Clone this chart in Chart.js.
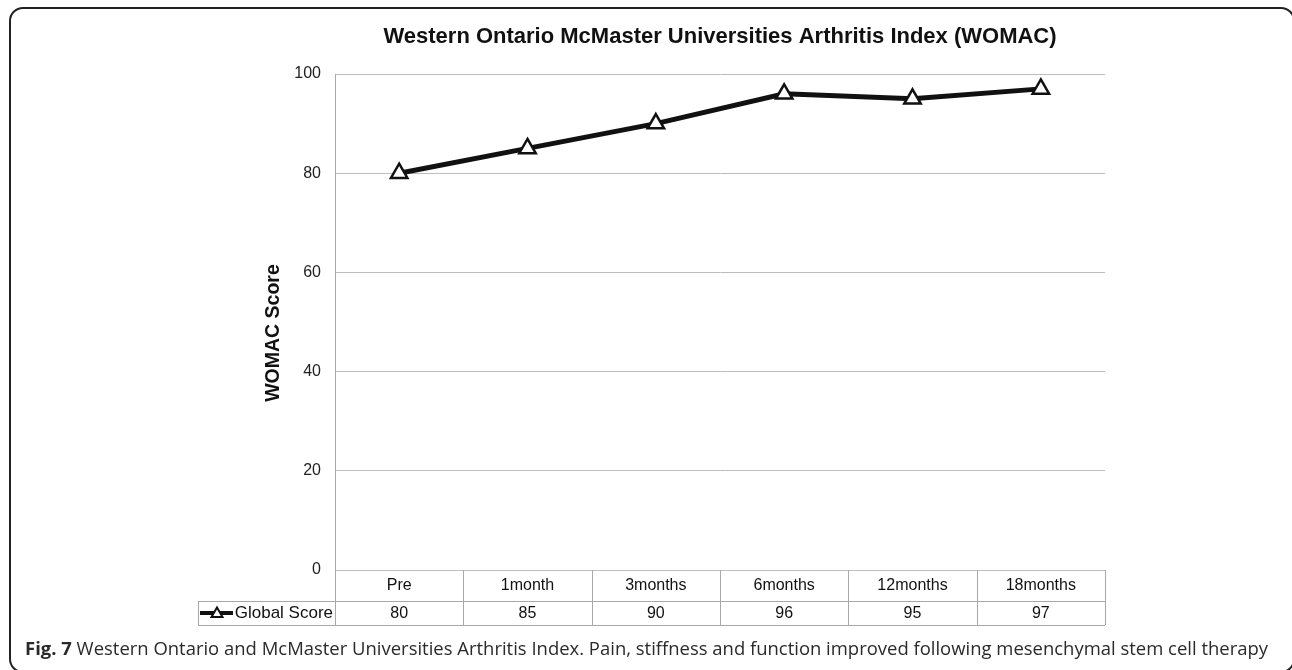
<!DOCTYPE html>
<html>
<head>
<meta charset="utf-8">
<script src="https://cdn.jsdelivr.net/npm/chart.js@4.4.1/dist/chart.umd.min.js"></script>
<style>
  html, body { margin: 0; padding: 0; background: #fff; }
  canvas { display: block; }
</style>
</head>
<body>
<canvas id="womac" width="1292" height="670"></canvas>
<script>
// time points and WOMAC global score
const timePoints = ['Pre', '1month', '3months', '6months', '12months', '18months']
const globalScore = [80, 85, 90, 96, 95, 97]
const yTicks = [0, 20, 40, 60, 80, 100]

const seriesName = 'Global Score'
const yTitle = 'WOMAC Score'
const captionBold = 'Fig. 7'
const captionText = ' Western Ontario and McMaster Universities Arthritis Index. Pain, stiffness and function improved following mesenchymal stem cell therapy'

const sans = '"Liberation Sans", Arial, sans-serif'
const tableGrey = '#a8a8a8'

// data table under the plot, y title, frame and caption
const extrasPlugin = {
    id: 'extras',
    afterDraw(chart) {
        const ctx = chart.ctx
        const area = chart.chartArea
        const x = chart.scales.x
        const step = x.getPixelForValue(1) - x.getPixelForValue(0)
        const rowMid = area.bottom + 31
        const rowBot = area.bottom + 55
        const legendLeft = 198

        ctx.save()
        ctx.strokeStyle = tableGrey
        ctx.lineWidth = 1
        ctx.beginPath()
        // horizontal rules
        ctx.moveTo(legendLeft, rowMid + 0.5); ctx.lineTo(area.right, rowMid + 0.5)
        ctx.moveTo(legendLeft, rowBot + 0.5); ctx.lineTo(area.right, rowBot + 0.5)
        // left edge of plot runs down through the table
        ctx.moveTo(Math.round(area.left) + 0.5, area.bottom); ctx.lineTo(Math.round(area.left) + 0.5, rowBot)
        ctx.moveTo(legendLeft + 0.5, rowMid); ctx.lineTo(legendLeft + 0.5, rowBot)
        // column separators
        timePoints.forEach((t, i) => {
            const sx = Math.round(x.getPixelForValue(i) + step / 2) + 0.5
            ctx.moveTo(sx, area.bottom); ctx.lineTo(sx, rowBot)
        })
        ctx.stroke()

        // category + value cells
        ctx.fillStyle = '#111'
        ctx.font = '16px ' + sans
        ctx.textAlign = 'center'
        ctx.textBaseline = 'middle'
        timePoints.forEach((t, i) => {
            const cx = x.getPixelForValue(i)
            ctx.fillText(t, cx, area.bottom + 16)
            ctx.fillText(String(globalScore[i]), cx, rowMid + 12.5)
        })

        // legend key in the row header
        ctx.textAlign = 'right'
        ctx.font = '17px ' + sans
        ctx.fillText(seriesName, area.left - 2, rowMid + 12.5)
        const ky = rowMid + 12
        ctx.strokeStyle = '#111'
        ctx.lineWidth = 4
        ctx.beginPath()
        ctx.moveTo(200, ky); ctx.lineTo(233, ky)
        ctx.stroke()
        ctx.fillStyle = '#fff'
        ctx.lineWidth = 2
        ctx.beginPath()
        ctx.moveTo(217, ky - 5.5); ctx.lineTo(222.5, ky + 4); ctx.lineTo(211.5, ky + 4); ctx.closePath()
        ctx.fill(); ctx.stroke()

        // y axis title
        ctx.save()
        ctx.translate(274, 333)
        ctx.rotate(-Math.PI / 2)
        ctx.textAlign = 'center'
        ctx.textBaseline = 'middle'
        ctx.fillStyle = '#111'
        ctx.font = 'bold 19.5px ' + sans
        ctx.fillText(yTitle, 0, 0)
        ctx.restore()

        // rounded frame
        ctx.strokeStyle = '#222'
        ctx.lineWidth = 2
        ctx.beginPath()
        ctx.roundRect(10, 8, 1284, 664, 13)
        ctx.stroke()

        // caption
        ctx.textAlign = 'left'
        ctx.textBaseline = 'alphabetic'
        ctx.fillStyle = '#2a2a2a'
        const capY = 655
        ctx.font = 'bold 18px "Open Sans", "Noto Sans", sans-serif'
        const wBold = ctx.measureText(captionBold).width
        ctx.font = '18px "Open Sans", "Noto Sans", sans-serif'
        const wText = ctx.measureText(captionText).width
        const sx = 1243 / (wBold + wText)
        ctx.translate(25, capY)
        ctx.scale(sx, 1)
        ctx.font = 'bold 18px "Open Sans", "Noto Sans", sans-serif'
        ctx.fillText(captionBold, 0, 0)
        ctx.font = '18px "Open Sans", "Noto Sans", sans-serif'
        ctx.fillText(captionText, wBold, 0)
        ctx.restore()
    }
}

new Chart(document.getElementById('womac'), {
    type: 'line',
    data: {
        labels: timePoints,
        datasets: [{
            label: seriesName,
            data: globalScore,
            borderColor: '#111',
            borderWidth: 5,
            pointStyle: 'triangle',
            pointRadius: 9.5,
            pointBorderWidth: 2.5,
            pointBackgroundColor: '#fff',
            pointBorderColor: '#111',
            tension: 0
        }]
    },
    options: {
        responsive: false,
        animation: false,
        devicePixelRatio: 1,
        layout: { padding: { left: 264, right: 187, top: 0, bottom: 100 } },
        plugins: {
            legend: { display: false },
            tooltip: { enabled: false },
            title: {
                display: true,
                fullSize: false,
                text: 'Western Ontario McMaster Universities Arthritis Index (WOMAC)',
                color: '#111',
                font: { family: sans, size: 22, weight: 'bold', lineHeight: 1.2 },
                padding: { top: 23.8, bottom: 23.8 }
            }
        },
        scales: {
            x: {
                type: 'category',
                display: false,
                offset: true
            },
            y: {
                min: 0,
                max: 100,
                afterBuildTicks(scale) {
                    scale.ticks = yTicks.map(v => ({ value: v }))
                },
                afterFit(scale) { scale.width = 71 },
                ticks: {
                    color: '#222',
                    padding: 14,
                    font: { family: sans, size: 16 }
                },
                grid: {
                    color: '#bdbdbd',
                    lineWidth: 1,
                    drawTicks: false
                },
                border: { display: true, color: tableGrey }
            }
        }
    },
    plugins: [extrasPlugin]
})
</script>
</body>
</html>
